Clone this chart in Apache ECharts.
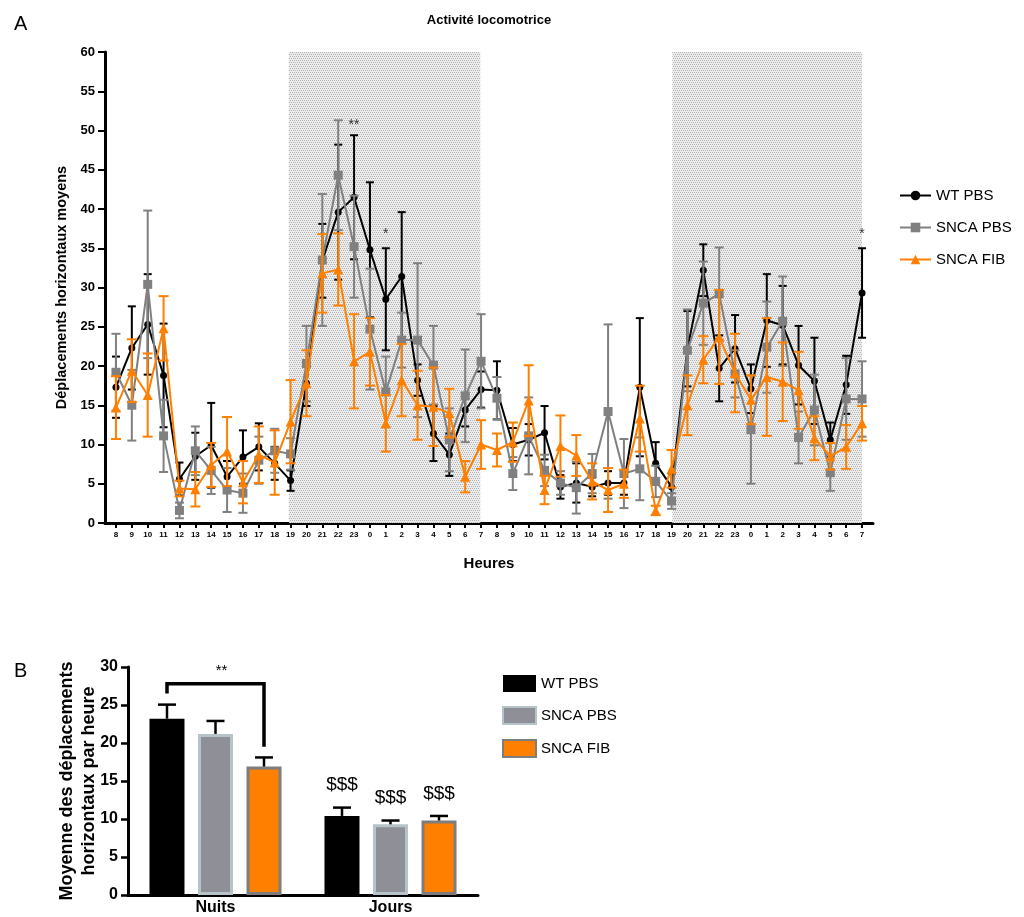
<!DOCTYPE html>
<html>
<head>
<meta charset="utf-8">
<script src="https://cdn.jsdelivr.net/npm/echarts@6/dist/echarts.min.js"></script>
<style>
  html, body { margin: 0; padding: 0; background: #fff; }
  #chart { width: 1024px; height: 917px; }
</style>
</head>
<body>
<div id="chart"></div>
<script>
// heures (48 points)
const hours = ['8', '9', '10', '11', '12', '13', '14', '15', '16', '17', '18', '19', '20', '21', '22', '23',
  '0', '1', '2', '3', '4', '5', '6', '7', '8', '9', '10', '11', '12', '13', '14', '15', '16', '17', '18', '19', '20', '21', '22', '23',
  '0', '1', '2', '3', '4', '5', '6', '7']

const wtMean = [17.3, 22.3, 25.3, 18.8, 5.6, 8.5, 9.9, 5.9, 8.4, 9.7, 7.6, 5.4, 17.8, 33.4, 39.6, 41.5,
  34.8, 28.5, 31.4, 18.2, 11.4, 8.7, 14.4, 17.0, 16.9, 10.0, 10.6, 11.5, 4.6, 5.1, 4.6, 5.1, 5.1, 17.3, 7.6, 4.6, 22.2, 32.2, 19.7, 22.2,
  17.1, 25.8, 25.2, 20.1, 18.1, 10.6, 17.6, 29.3]
const wtSem = [3.9, 5.3, 6.4, 6.6, 2.1, 3.0, 5.4, 2.0, 3.4, 3.0, 2.1, 1.3, 2.9, 4.7, 8.6, 7.9,
  8.6, 6.5, 8.2, 2.0, 3.5, 2.7, 2.1, 2.3, 3.7, 2.1, 2.0, 3.4, 1.5, 2.5, 1.2, 1.5, 1.5, 8.8, 2.7, 1.7, 4.8, 3.3, 4.2, 4.3,
  3.1, 5.9, 5.0, 5.0, 5.5, 2.2, 3.7, 5.7]

const pbsMean = [19.2, 15.0, 30.4, 11.1, 1.6, 9.2, 6.7, 4.2, 3.8, 8.0, 9.2, 8.8, 20.3, 33.5, 44.3, 35.2,
  24.7, 16.7, 23.3, 23.3, 20.1, 10.6, 16.2, 20.6, 15.9, 6.3, 11.1, 6.7, 5.1, 4.5, 6.3, 14.2, 6.3, 6.9, 5.3, 2.8, 22.0, 28.0, 29.2, 19.0,
  11.9, 22.4, 25.7, 10.9, 14.4, 6.4, 15.8, 15.8]
const pbsSem = [4.9, 4.5, 9.4, 4.6, 1.0, 3.1, 3.0, 2.8, 2.5, 3.0, 2.8, 2.0, 4.8, 8.4, 7.0, 6.5,
  7.7, 4.5, 3.5, 9.8, 5.0, 4.0, 5.9, 6.0, 2.7, 2.1, 4.9, 2.0, 1.5, 3.3, 2.5, 11.1, 4.4, 4.0, 2.0, 1.0, 5.2, 5.3, 5.9, 3.0,
  6.9, 5.8, 5.7, 3.3, 4.5, 2.3, 5.2, 4.8]

const fibMean = [14.7, 19.4, 16.3, 24.8, 4.4, 4.3, 7.4, 9.1, 5.2, 8.7, 7.7, 12.9, 17.8, 31.8, 32.3, 20.6,
  21.8, 12.7, 18.2, 15.0, 14.8, 14.0, 5.9, 10.0, 9.3, 10.3, 15.6, 4.2, 9.8, 8.6, 5.3, 4.2, 5.0, 13.3, 1.6, 6.9, 15.0, 20.8, 23.7, 19.1,
  15.7, 18.6, 18.0, 16.9, 10.8, 8.5, 9.7, 12.7]
const fibSem = [4.0, 4.0, 5.3, 4.1, 1.0, 2.2, 2.8, 4.4, 2.7, 3.6, 4.1, 5.3, 4.2, 5.0, 4.6, 6.0,
  4.3, 3.6, 4.6, 4.4, 5.0, 3.1, 2.0, 3.1, 2.1, 2.5, 4.5, 1.8, 3.9, 2.6, 2.3, 2.8, 1.8, 4.2, 0.6, 2.4, 3.8, 3.0, 6.0, 5.0,
  3.1, 7.5, 5.0, 4.9, 2.8, 1.7, 2.8, 2.2]

// périodes de nuit (zones grisées), en index d'heure
const nightStart = [10.9, 35.05]
const nightEnd = [22.95, 47]

// étoiles de significativité
const starIdx = [15, 17, 47]
const starVal = [50.7, 36.8, 36.8]
const starText = ['**', '*', '*']

// panneau B
const groups = ['WT PBS', 'SNCA PBS', 'SNCA FIB']
const periods = ['Nuits', 'Jours']
const wtBar = [23.2, 10.4]
const wtBarSem = [1.85, 1.1]
const pbsBar = [21.2, 9.3]
const pbsBarSem = [1.7, 0.5]
const fibBar = [16.9, 9.8]
const fibBarSem = [1.2, 0.6]
const dollarText = ['', '$$$']
const bracketTop = 27.8
const bracketEnds = [26.5, 19.5]

const FONT = 'Liberation Sans, Arial, sans-serif'
const BAR_STEP = 48.5

function dotPattern() {
  const c = document.createElement('canvas')
  c.width = 4
  c.height = 4
  const g = c.getContext('2d')
  g.fillStyle = '#ececec'
  g.fillRect(0, 0, 4, 4)
  g.fillStyle = '#b2b2b2'
  g.fillRect(0, 0, 1, 1)
  g.fillRect(2, 0, 1, 1)
  g.fillRect(1, 2, 1, 1)
  g.fillRect(3, 2, 1, 1)
  return c
}

function errA(color, cap) {
  return function(params, api) {
    const x = api.value(0)
    const m = api.value(1)
    const s = api.value(2)
    const top = api.coord([x, m + s])
    const bot = api.coord([x, m - s])
    const st = { stroke: color, lineWidth: 2 }
    return {
      type: 'group',
      children: [
        { type: 'line', shape: { x1: top[0], y1: top[1], x2: bot[0], y2: bot[1] }, style: st },
        { type: 'line', shape: { x1: top[0] - cap, y1: top[1], x2: top[0] + cap, y2: top[1] }, style: st },
        { type: 'line', shape: { x1: bot[0] - cap, y1: bot[1], x2: bot[0] + cap, y2: bot[1] }, style: st }
      ]
    }
  }
}

function errB(groupIndex) {
  return function(params, api) {
    const c = api.value(0)
    const m = api.value(1)
    const s = api.value(2)
    const off = (groupIndex - 1) * BAR_STEP
    const base = api.coord([c, m])
    const top = api.coord([c, m + s])
    const x = base[0] + off
    const st = { stroke: '#000', lineWidth: 2.5 }
    const children = [
      { type: 'line', shape: { x1: x, y1: base[1], x2: x, y2: top[1] }, style: st },
      { type: 'line', shape: { x1: x - 9, y1: top[1], x2: x + 9, y2: top[1] }, style: st }
    ]
    const t = dollarText[c]
    if (t) {
      children.push({
        type: 'text',
        style: { text: t, x: x, y: top[1] - 13, align: 'center', verticalAlign: 'bottom', font: '19px ' + FONT, fill: '#000' }
      })
    }
    return { type: 'group', children: children }
  }
}

function series(mean, sem) {
  return mean.map((v, i) => [i, v, sem[i]])
}

const chart = echarts.init(document.getElementById('chart'))

const lineColors = ['#000000', '#808080', '#ff8000']
const means = [wtMean, pbsMean, fibMean]
const sems = [wtSem, pbsSem, fibSem]
const symbols = ['circle', 'rect', 'triangle']
const symbolSizes = [7, 9, 10]
const caps = [4, 4.5, 5]

const lineSeries = []
groups.forEach((g, k) => {
  lineSeries.push({
    name: g + ' err',
    type: 'custom',
    xAxisIndex: 0,
    yAxisIndex: 0,
    z: 2 + k,
    renderItem: errA(lineColors[k], caps[k]),
    data: series(means[k], sems[k])
  })
  lineSeries.push({
    name: g,
    type: 'line',
    xAxisIndex: 0,
    yAxisIndex: 0,
    z: 2 + k,
    symbol: symbols[k],
    symbolSize: symbolSizes[k],
    showSymbol: true,
    color: lineColors[k],
    lineStyle: { width: 2, color: lineColors[k] },
    itemStyle: { color: lineColors[k] },
    data: means[k].map((v, i) => [i, v])
  })
})

const barColors = ['#000000', '#8f8f98', '#ff7f00']
const barBorders = ['#000000', '#b6c3c8', '#7d7d7d']
const barData = [wtBar, pbsBar, fibBar]
const barSems = [wtBarSem, pbsBarSem, fibBarSem]

const barSeries = []
groups.forEach((g, k) => {
  barSeries.push({
    name: g + ' (B)',
    type: 'bar',
    xAxisIndex: 1,
    yAxisIndex: 1,
    barWidth: 35,
    barGap: '38.6%',
    z: 2,
    itemStyle: { color: barColors[k], borderColor: barBorders[k], borderWidth: k === 0 ? 0 : 3 },
    data: barData[k]
  })
})
groups.forEach((g, k) => {
  barSeries.push({
    name: g + ' (B) err',
    type: 'custom',
    xAxisIndex: 1,
    yAxisIndex: 1,
    z: 3,
    renderItem: errB(k),
    data: barData[k].map((v, i) => [i, v, barSems[k][i]])
  })
})
barSeries.push({
  name: 'bracket',
  type: 'custom',
  xAxisIndex: 1,
  yAxisIndex: 1,
  z: 4,
  renderItem: function(params, api) {
    const c = api.value(0)
    const topY = api.coord([c, api.value(1)])
    const left = api.coord([c, api.value(2)])
    const right = api.coord([c, api.value(3)])
    const x1 = topY[0] - BAR_STEP
    const x2 = topY[0] + BAR_STEP
    return {
      type: 'group',
      children: [
        {
          type: 'polyline',
          shape: { points: [[x1, left[1]], [x1, topY[1]], [x2, topY[1]], [x2, right[1]]] },
          style: { stroke: '#000', lineWidth: 3.5, fill: null }
        },
        {
          type: 'text',
          style: { text: '**', x: topY[0] + 6, y: topY[1] - 5, align: 'center', verticalAlign: 'bottom', font: '15px ' + FONT, fill: '#000' }
        }
      ]
    }
  },
  data: [[0, bracketTop, bracketEnds[0], bracketEnds[1]]]
})

const option = {
  animation: false,
  backgroundColor: '#fff',
  textStyle: { fontFamily: FONT },
  title: [
    {
      text: 'Activité locomotrice',
      left: 484,
      top: 9,
      textAlign: 'center',
      textStyle: { fontSize: 13, fontWeight: 'bold', color: '#000', fontFamily: FONT }
    },
    { text: 'A', left: 9, top: 9, textStyle: { fontSize: 20, fontWeight: 'normal', color: '#000', fontFamily: FONT } },
    { text: 'B', left: 9, top: 656, textStyle: { fontSize: 20, fontWeight: 'normal', color: '#000', fontFamily: FONT } }
  ],
  legend: [
    {
      data: groups,
      orient: 'vertical',
      left: 894,
      top: 183,
      itemWidth: 31,
      itemHeight: 12,
      itemGap: 17,
      textStyle: { fontSize: 15, color: '#000', fontFamily: FONT }
    },
    {
      data: groups.map(g => g + ' (B)'),
      formatter: n => n.replace(' (B)', ''),
      orient: 'vertical',
      left: 497,
      top: 670,
      itemWidth: 33,
      itemHeight: 17,
      itemGap: 14,
      icon: 'rect',
      textStyle: { fontSize: 15, color: '#000', fontFamily: FONT }
    }
  ],
  grid: [
    { left: 105, width: 768, top: 52, height: 471 },
    { left: 128, width: 350, top: 667, height: 228 }
  ],
  xAxis: [
    {
      type: 'value',
      gridIndex: 0,
      min: -0.69,
      max: 47.69,
      name: 'Heures',
      nameLocation: 'middle',
      nameGap: 33,
      nameTextStyle: { fontSize: 15, fontWeight: 'bold', color: '#000', fontFamily: FONT },
      axisLine: { show: true, onZero: false, lineStyle: { color: '#000', width: 3 } },
      axisTick: { show: true, length: 5, lineStyle: { width: 2, color: '#000' }, customValues: hours.map((h, i) => i) },
      axisLabel: {
        customValues: hours.map((h, i) => i),
        formatter: v => hours[v],
        fontSize: 8,
        fontWeight: 'bold',
        color: '#000',
        margin: 8
      },
      splitLine: { show: false }
    },
    {
      type: 'category',
      gridIndex: 1,
      data: periods,
      axisLine: { lineStyle: { color: '#000', width: 3 } },
      axisTick: { show: false },
      axisLabel: { fontSize: 16, fontWeight: 'bold', color: '#000', margin: 5 }
    }
  ],
  yAxis: [
    {
      type: 'value',
      gridIndex: 0,
      min: 0,
      max: 60,
      interval: 5,
      name: 'Déplacements horizontaux moyens',
      nameLocation: 'middle',
      nameGap: 27,
      nameTextStyle: { fontSize: 14.5, fontWeight: 'bold', color: '#000', fontFamily: FONT },
      axisLine: { show: true, onZero: false, lineStyle: { color: '#000', width: 3 } },
      axisTick: { show: true, length: 7, lineStyle: { width: 2, color: '#000' } },
      axisLabel: { fontSize: 13, fontWeight: 'bold', color: '#000', margin: 10 },
      splitLine: { show: false }
    },
    {
      type: 'value',
      gridIndex: 1,
      min: 0,
      max: 30,
      interval: 5,
      name: 'Moyenne des déplacements\nhorizontaux par heure',
      nameLocation: 'middle',
      nameGap: 28,
      nameMoveOverlap: false,
      nameTextStyle: { fontSize: 18, fontWeight: 'bold', color: '#000', lineHeight: 22, fontFamily: FONT },
      axisLine: { show: true, lineStyle: { color: '#000', width: 3 } },
      axisTick: { show: true, length: 7, lineStyle: { width: 2.5, color: '#000' } },
      axisLabel: { fontSize: 16, fontWeight: 'bold', color: '#000', margin: 10 },
      splitLine: { show: false }
    }
  ],
  series: [
    {
      name: 'nuit',
      type: 'line',
      xAxisIndex: 0,
      yAxisIndex: 0,
      z: 1,
      data: [],
      markArea: {
        silent: true,
        itemStyle: { color: { image: dotPattern(), repeat: 'repeat' } },
        data: nightStart.map((s, i) => [{ xAxis: s, yAxis: 0 }, { xAxis: nightEnd[i], yAxis: 60 }])
      }
    },
    ...lineSeries,
    {
      name: 'étoiles',
      type: 'scatter',
      xAxisIndex: 0,
      yAxisIndex: 0,
      z: 6,
      symbolSize: 0,
      label: {
        show: true,
        position: 'inside',
        formatter: p => p.value[2],
        fontSize: 14,
        color: '#000',
        fontFamily: FONT
      },
      data: starIdx.map((x, i) => [x, starVal[i], starText[i]])
    },
    ...barSeries
  ]
}

chart.setOption(option)
window.onresize = function() {
  chart.resize()
}
</script>
</body>
</html>
